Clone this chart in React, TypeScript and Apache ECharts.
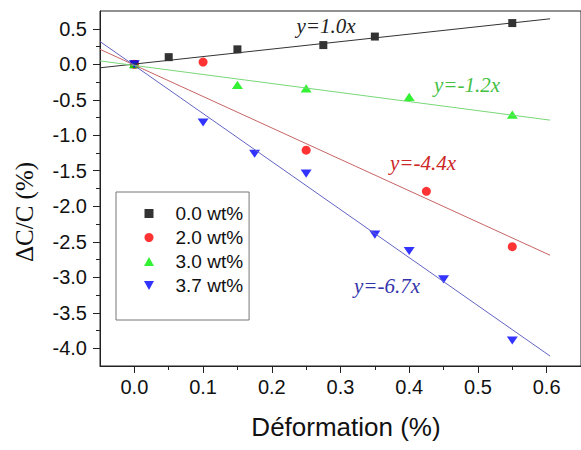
import React, { useEffect, useRef } from "react";
import * as echarts from "echarts";

const seriesNames = ["0.0 wt%", "2.0 wt%", "3.0 wt%", "3.7 wt%"];
const x00 = [0, 0.05, 0.15, 0.275, 0.35, 0.55];
const y00 = [0, 0.1, 0.21, 0.27, 0.39, 0.58];
const x20 = [0, 0.1, 0.25, 0.425, 0.55];
const y20 = [0, 0.03, -1.21, -1.79, -2.57];
const x30 = [0, 0.15, 0.25, 0.4, 0.55];
const y30 = [0, -0.29, -0.34, -0.46, -0.71];
const x37 = [0, 0.1, 0.175, 0.25, 0.35, 0.4, 0.45, 0.55];
const y37 = [0, -0.82, -1.26, -1.54, -2.4, -2.63, -3.03, -3.89];

// fitted lines (endpoints)
const fitX = [-0.05, 0.605];
const fit00 = [-0.05, 0.64];
const fit20 = [0.21, -2.69];
const fit30 = [0.047, -0.787];
const fit37 = [0.32, -4.11];
const fitLabels = ["y=1.0x", "y=-4.4x", "y=-1.2x", "y=-6.7x"];

const xMajor = [0, 0.1, 0.2, 0.3, 0.4, 0.5, 0.6];
const xMinor = [0.05, 0.15, 0.25, 0.35, 0.45, 0.55];
const yMajor = [0.5, 0, -0.5, -1, -1.5, -2, -2.5, -3, -3.5, -4];
const yMinor = [0.25, -0.25, -0.75, -1.25, -1.75, -2.25, -2.75, -3.25, -3.75];

const zip = (xs: number[], ys: number[]) => xs.map((x, i) => [x, ys[i]]);

const SANS = "'Liberation Sans', Arial, sans-serif";
const SERIF = "'Liberation Serif', 'Times New Roman', serif";

export default function App() {
  const ref = useRef<HTMLDivElement>(null);
  useEffect(() => {
    if (!ref.current) return;
    const chart = echarts.init(ref.current, undefined, { renderer: "svg" });
    const axisLine = { show: true, onZero: false, lineStyle: { color: "#222", width: 1 } };
    const common = { type: "value" as const, min: -0.05, max: 0.65, splitLine: { show: false } };
    const yCommon = { type: "value" as const, min: -4.25, max: 0.75, splitLine: { show: false } };
    chart.setOption({
      animation: false,
      backgroundColor: "#fff",
      grid: { left: 100, top: 11, right: -2, bottom: 84, show: true, borderColor: "#222", borderWidth: 1 },
      xAxis: [
        {
          ...common,
          position: "bottom",
          axisLine,
          axisTick: { show: true, customValues: xMajor, length: 7, lineStyle: { color: "#222" } },
          axisLabel: {
            customValues: xMajor,
            formatter: (v: number) => v.toFixed(1),
            fontSize: 20,
            fontFamily: SANS,
            color: "#111",
            margin: 11,
          },
        },
        {
          ...common,
          position: "bottom",
          axisLine: { show: false, onZero: false },
          axisTick: { show: true, customValues: xMinor, length: 4, lineStyle: { color: "#222" } },
          axisLabel: { show: false },
        },
      ],
      yAxis: [
        {
          ...yCommon,
          position: "left",
          axisLine,
          axisTick: { show: true, customValues: yMajor, length: 7, lineStyle: { color: "#222" } },
          axisLabel: {
            customValues: yMajor,
            formatter: (v: number) => v.toFixed(1),
            fontSize: 20,
            fontFamily: SANS,
            color: "#111",
            margin: 13,
          },
        },
        {
          ...yCommon,
          position: "left",
          axisLine: { show: false, onZero: false },
          axisTick: { show: true, customValues: yMinor, length: 4, lineStyle: { color: "#222" } },
          axisLabel: { show: false },
        },
      ],
      legend: {
        data: seriesNames,
        orient: "vertical",
        left: 116,
        top: 192,
        padding: [12, 6, 25, 28],
        itemWidth: 43,
        itemHeight: 9,
        itemGap: 5,
        symbolKeepAspect: true,
        borderColor: "#777",
        borderWidth: 1,
        backgroundColor: "#fff",
        textStyle: { fontSize: 19, fontFamily: SANS, color: "#111" },
      },
      series: [
        { name: "fit0", type: "line", data: zip(fitX, fit00), showSymbol: false, symbol: "none", lineStyle: { color: "#333", width: 1 }, silent: true },
        { name: "fit2", type: "line", data: zip(fitX, fit20), showSymbol: false, symbol: "none", lineStyle: { color: "#c86464", width: 1 }, silent: true },
        { name: "fit3", type: "line", data: zip(fitX, fit30), showSymbol: false, symbol: "none", lineStyle: { color: "#78d878", width: 1 }, silent: true },
        { name: "fit37", type: "line", data: zip(fitX, fit37), showSymbol: false, symbol: "none", lineStyle: { color: "#6464c4", width: 1 }, silent: true },
        { name: seriesNames[0], type: "scatter", data: zip(x00, y00), symbol: "path://M0,0 L10,0 L10,10 L0,10 Z", symbolSize: 8, symbolKeepAspect: true, itemStyle: { color: "#000" } },
        { name: seriesNames[1], type: "scatter", data: zip(x20, y20), symbol: "circle", symbolSize: 9, symbolKeepAspect: true, itemStyle: { color: "#ff0000" } },
        { name: seriesNames[2], type: "scatter", data: zip(x30, y30), symbol: "path://M5,0 L10,9 L0,9 Z", symbolSize: [11, 9], symbolKeepAspect: true, itemStyle: { color: "#00ee00" } },
        { name: seriesNames[3], type: "scatter", data: zip(x37, y37), symbol: "path://M0,0 L10,0 L5,9 Z", symbolSize: [11, 9], symbolKeepAspect: true, itemStyle: { color: "#0000ff" } },
      ],
      graphic: [
        { type: "text", x: 326, y: 26, style: { text: fitLabels[0], fill: "#222", font: `italic 21px ${SERIF}`, align: "center", verticalAlign: "middle" } },
        { type: "text", x: 423, y: 163, style: { text: fitLabels[1], fill: "#cc2626", font: `italic 21px ${SERIF}`, align: "center", verticalAlign: "middle" } },
        { type: "text", x: 467, y: 85, style: { text: fitLabels[2], fill: "#44c044", font: `italic 21px ${SERIF}`, align: "center", verticalAlign: "middle" } },
        { type: "text", x: 387, y: 286, style: { text: fitLabels[3], fill: "#3434aa", font: `italic 21px ${SERIF}`, align: "center", verticalAlign: "middle" } },
        { type: "text", x: 346, y: 427, style: { text: "Déformation (%)", fill: "#111", font: `26px ${SANS}`, align: "center", verticalAlign: "middle" } },
        { type: "text", x: 24, y: 212, rotation: Math.PI / 2, style: { text: "ΔC/C (%)", fill: "#111", font: `25px ${SERIF}`, align: "center", verticalAlign: "middle" } },
      ],
    });
    return () => chart.dispose();
  }, []);
  return <div ref={ref} style={{ position: "absolute", left: 0, top: 0, width: 581, height: 450 }} />;
}
